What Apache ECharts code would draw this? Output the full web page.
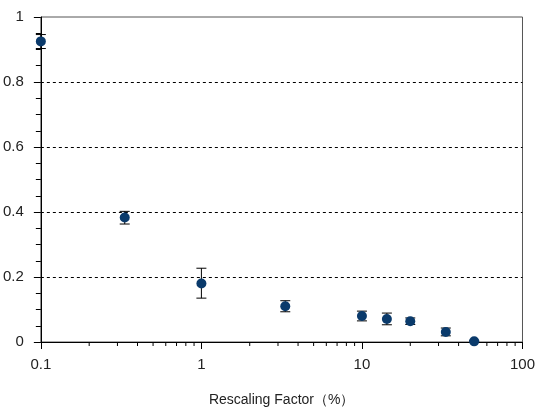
<!DOCTYPE html>
<html><head><meta charset="utf-8">
<script src="https://cdn.jsdelivr.net/npm/echarts@6/dist/echarts.min.js"></script>
<style>html,body{margin:0;padding:0;background:#fff}#c{width:538px;height:412px}</style>
</head><body><div id="c"></div>
<script>
var xValues = [0.1, 0.333, 1, 3.33, 10, 14.3, 20, 33.3, 50];
var yValues = [0.925, 0.383, 0.18, 0.11, 0.08, 0.071, 0.064, 0.031, 0.002];
var yLow    = [0.903, 0.363, 0.135, 0.093, 0.065, 0.053, 0.054, 0.019, 0.0];
var yHigh   = [0.946, 0.402, 0.227, 0.127, 0.095, 0.089, 0.074, 0.043, 0.005];
var minorX  = [0.2,0.3,0.4,0.5,0.6,0.7,0.8,0.9,2,3,4,5,6,7,8,9,20,30,40,50,60,70,80,90];
var xName = 'Rescaling Factor（%）';

var chart = echarts.init(document.getElementById('c'));
var font = 'Liberation Sans, Arial, sans-serif';
chart.setOption({
  animation: false,
  grid: {left: 39, right: 15, top: 17, bottom: 68, show: true, borderColor: '#555', borderWidth: 1, backgroundColor: 'transparent'},
  xAxis: {
    type: 'log', logBase: 10, min: 0.1, max: 100,
    name: xName, nameLocation: 'middle', nameGap: 51,
    nameTextStyle: {fontSize: 14, color: '#222', fontFamily: font},
    axisLine: {show: true, lineStyle: {color: '#000', width: 1}},
    axisTick: {show: true, length: 7, lineStyle: {color: '#000'}},
    axisLabel: {fontSize: 15, color: '#222', margin: 15, fontFamily: font,
      formatter: function (v) { return String(+v.toPrecision(3)); }},
    splitLine: {show: false},
    minorTick: {show: false}
  },
  yAxis: {
    type: 'value', min: 0, max: 1, interval: 0.2,
    axisLine: {show: true, lineStyle: {color: '#000', width: 1}},
    axisTick: {show: true, length: 7, lineStyle: {color: '#000'}},
    minorTick: {show: true, splitNumber: 4, length: 5, lineStyle: {color: '#000'}},
    axisLabel: {fontSize: 15, color: '#222', margin: 17, fontFamily: font},
    splitLine: {show: true, showMinLine: false, showMaxLine: false, lineStyle: {color: '#000', type: [3, 3], width: 1}}
  },
  series: [
    {
      type: 'custom', silent: true, clip: false, z: 1,
      data: minorX.map(function (v) { return [v]; }),
      renderItem: function (params, api) {
        var p = api.coord([api.value(0), 0]);
        return {type: 'line', shape: {x1: p[0], y1: p[1], x2: p[0], y2: p[1] + 4}, style: {stroke: '#000', lineWidth: 1}};
      }
    },
    {
      type: 'custom', silent: true, clip: false, z: 2,
      data: xValues.map(function (x, i) { return [x, yLow[i], yHigh[i]]; }),
      renderItem: function (params, api) {
        var lo = api.coord([api.value(0), api.value(1)]);
        var hi = api.coord([api.value(0), api.value(2)]);
        var w = 5;
        var st = {stroke: '#000', lineWidth: 1};
        return {type: 'group', children: [
          {type: 'line', shape: {x1: lo[0], y1: lo[1], x2: hi[0], y2: hi[1]}, style: st},
          {type: 'line', shape: {x1: lo[0] - w, y1: lo[1], x2: lo[0] + w, y2: lo[1]}, style: st},
          {type: 'line', shape: {x1: hi[0] - w, y1: hi[1], x2: hi[0] + w, y2: hi[1]}, style: st}
        ]};
      }
    },
    {
      type: 'scatter', clip: false, z: 3,
      symbol: 'circle', symbolSize: 10,
      itemStyle: {color: '#0a3a6b', opacity: 1},
      data: xValues.map(function (x, i) { return [x, yValues[i]]; })
    }
  ]
});
</script></body></html>
